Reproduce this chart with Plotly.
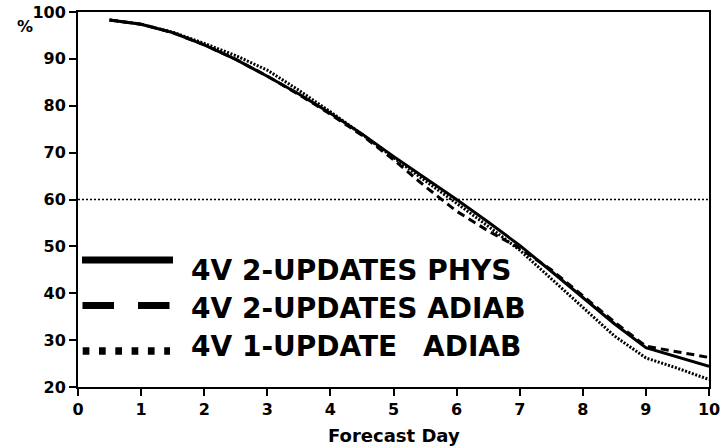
import plotly.graph_objects as go

# Forecast day and anomaly correlation (%) for each experiment
days = [0.5, 1, 1.5, 2, 2.5, 3, 3.5, 4, 4.5, 5, 5.5, 6, 6.5, 7, 7.5, 8, 8.5, 9, 9.5, 10]
phys_2upd = [98.3, 97.4, 95.6, 93.0, 89.9, 86.3, 82.5, 78.4, 74.0, 69.2, 64.6, 60.0,
             55.2, 50.2, 44.7, 39.1, 33.5, 28.4, 26.4, 24.4]
adiab_2upd = [98.3, 97.4, 95.6, 93.0, 89.9, 86.3, 82.4, 78.2, 73.7, 68.5, 62.8, 57.5,
              53.3, 49.6, 45.0, 39.5, 33.9, 28.7, 27.5, 26.3]
adiab_1upd = [98.3, 97.4, 95.7, 93.3, 90.7, 87.6, 83.3, 78.7, 73.9, 68.9, 64.0, 59.2,
              54.3, 49.2, 43.2, 37.0, 30.9, 26.2, 24.0, 21.6]

labels = ["4V 2-UPDATES PHYS", "4V 2-UPDATES ADIAB", "4V 1-UPDATE"]
label_tail = "ADIAB"
threshold = 60
x_ticks = list(range(0, 11))
y_ticks = list(range(20, 101, 10))

FONT = "DejaVu Sans"
W, H = 723, 446
ML, MR, MT, MB = 78, 14, 12, 59
PW, PH = W - ML - MR, H - MT - MB


def px(x):
    return (x - ML) / PW


def py(y):
    return (H - MB - y) / PH


fig = go.Figure()
fig.add_trace(go.Scatter(x=days, y=adiab_1upd, mode="lines", name=labels[2],
                         line=dict(color="black", width=3, dash="2px,1.6px")))
fig.add_trace(go.Scatter(x=days, y=adiab_2upd, mode="lines", name=labels[1],
                         line=dict(color="black", width=3, dash="8px,5px")))
fig.add_trace(go.Scatter(x=days, y=phys_2upd, mode="lines", name=labels[0],
                         line=dict(color="black", width=3)))

shapes = [
    # reference level
    dict(type="line", xref="paper", yref="y", x0=0, x1=1, y0=threshold, y1=threshold,
         line=dict(color="black", width=1.5, dash="2px,2px")),
    # key samples
    dict(type="line", xref="paper", yref="paper", x0=px(82), x1=px(173), y0=py(260), y1=py(260),
         line=dict(color="black", width=7)),
    dict(type="line", xref="paper", yref="paper", x0=px(82.5), x1=px(170), y0=py(305.5), y1=py(305.5),
         line=dict(color="black", width=7, dash="31.5px,24px")),
    dict(type="line", xref="paper", yref="paper", x0=px(82.7), x1=px(170), y0=py(351), y1=py(351),
         line=dict(color="black", width=7.5, dash="6.7px,9.6px")),
]

text_font = dict(family=FONT, size=28, color="black", weight="bold")
annotations = [
    dict(text=labels[0], xref="paper", yref="paper", x=px(189), y=py(270),
         xanchor="left", yanchor="middle", showarrow=False, font=text_font),
    dict(text=labels[1], xref="paper", yref="paper", x=px(189), y=py(308),
         xanchor="left", yanchor="middle", showarrow=False, font=text_font),
    dict(text=labels[2], xref="paper", yref="paper", x=px(189), y=py(346.5),
         xanchor="left", yanchor="middle", showarrow=False, font=text_font),
    dict(text=label_tail, xref="paper", yref="paper", x=px(421), y=py(346.5),
         xanchor="left", yanchor="middle", showarrow=False, font=text_font),
    dict(text="%", xref="paper", yref="paper", x=px(25), y=py(26),
         xanchor="center", yanchor="middle", showarrow=False,
         font=dict(family=FONT, size=16, color="black", weight="bold")),
    dict(text="Forecast Day", xref="paper", yref="paper", x=px(393.5), y=py(435),
         xanchor="center", yanchor="middle", showarrow=False,
         font=dict(family=FONT, size=18, color="black", weight="bold")),
]

axis_common = dict(
    showgrid=False, zeroline=False, showline=True, mirror=True,
    linecolor="black", linewidth=2, automargin=False,
    ticks="outside", ticklen=7, tickwidth=2, tickcolor="black",
    tickfont=dict(family=FONT, size=16, color="black", weight="bold"),
)

fig.update_layout(
    width=W, height=H,
    margin=dict(l=ML, r=MR, t=MT, b=MB, pad=0),
    paper_bgcolor="white", plot_bgcolor="white",
    showlegend=False,
    shapes=shapes,
    annotations=annotations,
    xaxis=dict(range=[0, 10], tickvals=x_ticks, **axis_common),
    yaxis=dict(range=[20, 100], tickvals=y_ticks, **axis_common),
)

fig.write_html("out.html")
